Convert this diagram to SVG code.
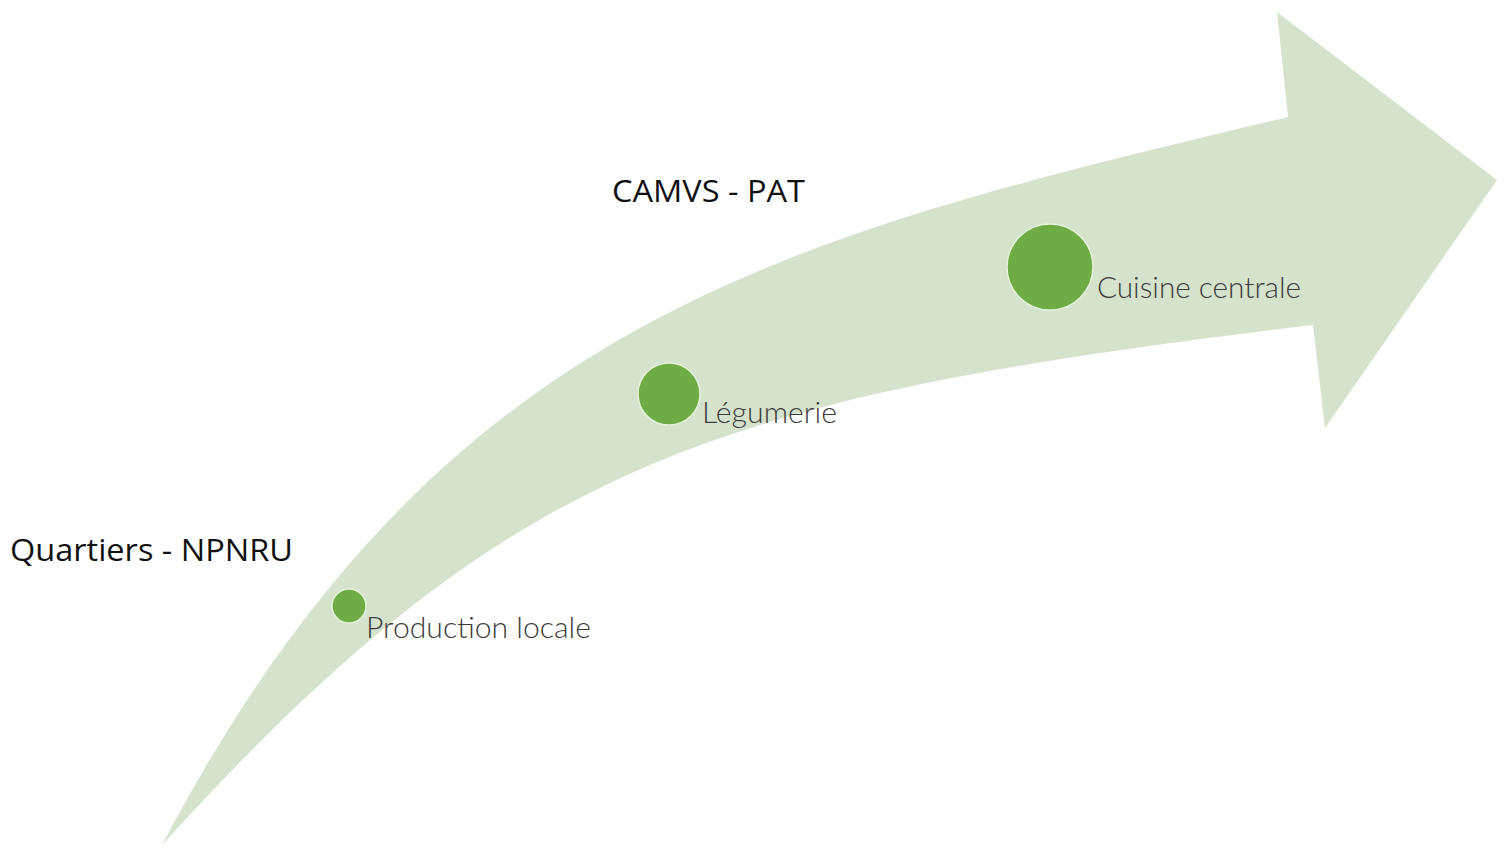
<svg xmlns="http://www.w3.org/2000/svg" width="1509" height="848" viewBox="0 0 1509 848">
<style>
.arrow{fill:#d6e3cc;stroke:none}
.dot{fill:#6fac46;stroke:#e6f2da;stroke-width:1.5}
.lbl{font-family:Lato,"Open Sans","Liberation Sans",sans-serif;font-weight:300;font-size:30px;fill:#3b3b3b}
.ttl{font-family:"Open Sans","Liberation Sans",sans-serif;font-size:31px;fill:#111111}
</style>
<rect width="1509" height="848" fill="#ffffff"/>
<g id="arrow">
<path class="arrow" d="M162,845 C442,313 788,237 1288,117 L1277,12 L1497,180 L1325,428 L1313,325 C713,397 512,460 162,845 Z"/>
</g>
<g id="title-quartiers">
<text class="ttl" x="10" y="561" textLength="283" lengthAdjust="spacingAndGlyphs">Quartiers - NPNRU</text>
</g>
<g id="title-camvs">
<text class="ttl" x="612" y="202" textLength="193" lengthAdjust="spacingAndGlyphs">CAMVS - PAT</text>
</g>
<g id="node-production">
<circle class="dot" cx="349" cy="606" r="17"/>
<text class="lbl" x="366" y="638" textLength="225" lengthAdjust="spacingAndGlyphs">Production locale</text>
</g>
<g id="node-legumerie">
<circle class="dot" cx="669" cy="394" r="31"/>
<text class="lbl" x="702" y="423" textLength="135" lengthAdjust="spacingAndGlyphs">Légumerie</text>
</g>
<g id="node-cuisine">
<circle class="dot" cx="1050" cy="267" r="43"/>
<text class="lbl" x="1097" y="298" textLength="204" lengthAdjust="spacingAndGlyphs">Cuisine centrale</text>
</g>
<g id="connectors"></g>
</svg>
